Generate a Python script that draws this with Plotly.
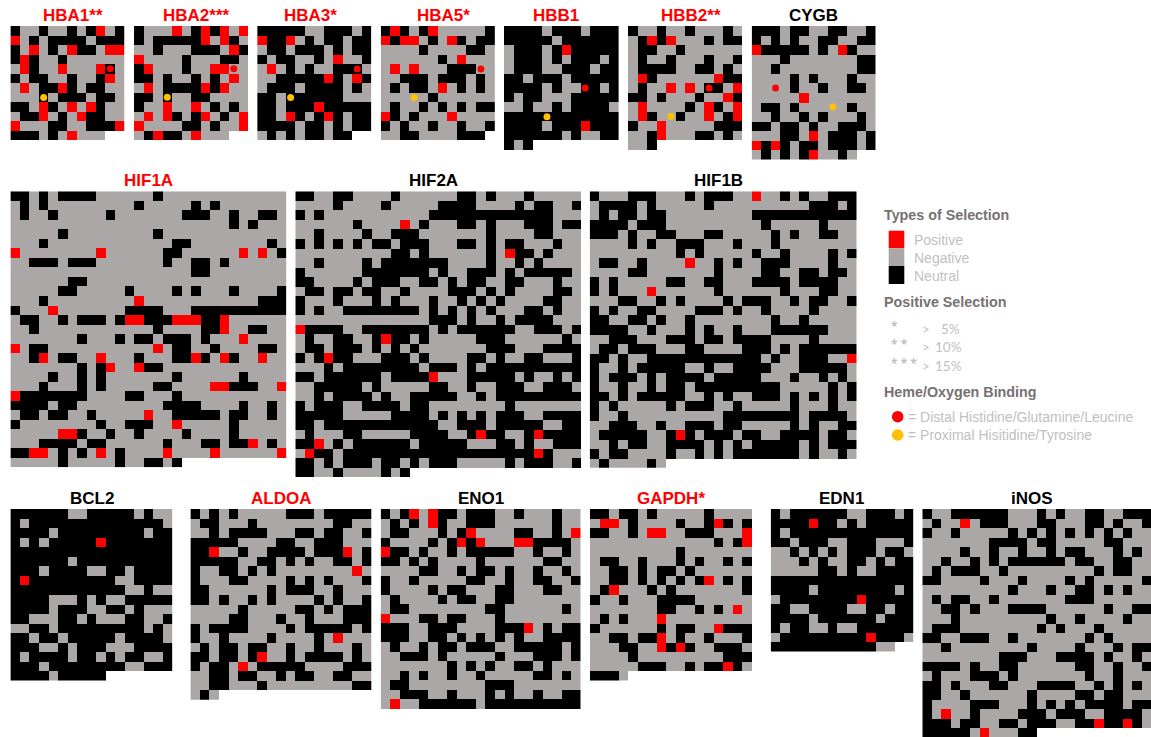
import plotly.graph_objects as go

# '.' negative, '#' neutral, 'r' positive
HBA1 = ["#..#..#.#r.#","r.#.####.###","#.r.#.r##.rr","#r#..#......",".r#..r...r#.","#.##..#..#r.",".r.##r#.##..","...#.###.##.","##.r#.r.r#..",".##r.#.r##..","r...##..###r","###.#.r..."]
HBA2 = ["#...r.#r#r.r","#.#####r.r#.","..#...###.r#","r....#...##.","#r...#..rr..","##.#..#.#.r.",".r.####r#r..","##.#..##....","#..r..r.#.#.",".r.r#.#r.#.r","r....##.#..r",".#r##.r..."]
HBA3 = ["#####..###.#","r##r.#.##.##",".##.###.#.##","#.##..#.r..#",".r.#.#..###.","..#####r#.r#",".###.####.#.","##.######...","##.###r#####","##.r#.#r#.##","####.##.#.##",".#.#.##.##"]
HBA5 = ["#r#.#r.....#","r#rr.#.r#.##","....#....##.","......#.r...",".r.r...###..","..###.###.#.",".#.##.r.#.#.",".....#......",".#..#.#.#.##","r#.#...r....","#.#..#..#..#","..##....###"]
HBB1 = ["####.###.###","#####.######",".###.#r#####",".###.#.###.#",".###..###.##","##.###.#####","####.#..##.#","#.##...#####","..#..#.####.","############","####.###r###","######.#..##","#.#"]
HBB2 = ["#..#..#...#.",".#r#r...#.##",".##..#......",".#..#...#..#",".####..##.#.",".r#......r##",".#..r.r.##.r","##.#...#..r#",".r....#.r#.r",".r#..#..r.#r","#..r.....###","..#r...##.#.","..#"]
CYGB = ["###.##..##..#","#.#.#..##..##","r#####.#.r#..","...#.......##","..#........##","....#.#...#..","....#..#..##.",".....r.......",".##.#.....#..","..#..#.#...#.","##.##.#..###.","...##.r.###.#","r#r#.##.###.#",".#.#.#r..#."]
HIF1A = [
"##.#. ####. ..... #.... ..... ....",
".#.#. ..... ...#. ....# .#... ....",
".#..# ..... #.... ...## #..#. .##.",
"..... ..... ..... ..... ...#. #...",
"..... #.... ..... #.... ..... ....",
"...#. ..... ..... ..##. ..... ..#.",
"r.... ....r ..... .##.. ....r .r.#",
"..### .###. ..... .#..# #.#.. ....",
"..... ..... ..... ....# #.... ....",
"..... .##.. ..... ..... ..... ....",
"..... ##... ..#.. ..#.# ...#. ...#",
"...#. ..... ...r. ..... ..... .###",
"#...r ..... ..### #...# ##### ####",
".##.. #.### .#rr# ##rrr ##r.. ....",
"..#.. ..... ..... #.... ##r.. ##..",
"..... ..#.. .#.## .###. #...r ....",
"r.##. ..... ..... r.##. .#... .##.",
"..#r. ##..r ...#. ..##r #.r#. .r..",
"..... ..#.# r..r# #.... ..... ....",
"....# ..#.# ..... ..#.. ....# ....",
"...#. ..#.# ..... ##... .rr## #..r",
"r#### ###.. ..##. ..#.. ..... ....",
"####. ##... ..... .#### ....# ..#.",
".##.# #..#. ....r ..### ##.## ..#.",
"#.... ....# ..### ..r.. ...#. ....",
"..... rr#.. #..#. ...#. ...#. ....",
"...## ##.## ..... .#... ##.## r.#.",
"##rr. #.#.r .#... .r... .r... ...r",
"..... #.... .#..# #.#"]
HIF2A = [
"##..# #.... #.... ..##. #...# .....",
"....# ....# ..... ####. ...#. ##..#",
"#.#.. ..... ....# ##### ##### ##...",
"..... .#... .r.#. ..##. #...# ##.##",
"..#.. ..#.. ###.. ..... #.... ##...",
"#.#.# .#.## .###. ..##. #.##. ..#..",
"..... ..... ##.#. ..... #.r## .#...",
"..#.. ..#.# ##### #.... #..#. #....",
"#.... ..### ####. #..## #.#.# ####.",
"##... .#.## #..## .#.## ..##. ..#..",
".##.# #.##. .#... .###. #.#.. ..##.",
"#...# ...#. #...# ..#.# .#... .##..",
"#.#.. ##### ###.# .#.#. #...# #.#..",
"..... ..... ....# ##.#. .#.## ##...",
"r#### ..### ####. #.### ###.. ###.#",
".#..# #..#r ##.#. ....# ##... ...#.",
".##.# ##.#. #.#.. ..... ###.. .####",
"#.#r# #...# ##.#. ...## .#..# #...#",
"...#. ##### ###.# ##.#. ##### #####",
"##.## ####. ####r ...## ###.# ..#.#",
"..### ##.#. ....# #..#. .###. .###.",
"..#.# ###.# ..### ##..# .#### #####",
"#.### ..### #.##. ..... ..#.. .....",
"##### ..... ####. #.#.# .###. .####",
"##.## ##### ##### ..### .#### #..##",
".#... ##... ..### #..#r ##..# r####",
"##r.# .#### ##.## ###.. .##.# ..###",
".r##. ##### ##### ##### ##### r#...",
"##.#. ###.# #.#.# ##... ..#.# ##..#",
"##..# ....# .#"]
HIF1B = [
"#...# ##... #.### ..r.. #.#.. ###",
".#### .#... ..#.. ..... ...## #.#",
".#.## .##.. ..... ..### ##### ###",
"####. ###.. ..... ...#. ....# ...",
"###.# ..##. ..##. ....# .#..# #..",
"....# .#..# ##... #...# ..... ...",
"..... ....# .#... ..#.. #.... #.#",
".##.. #.... r..#. #..## #.... #..",
"....# #.... ...#. ...## ..##. ##.",
"#.#.. ...## ..##. ..### #.### #..",
"#.#.. .r... ...#. ..... #...# #..",
"...## ..#.# ....# .###. .#.## ..#",
"#.#.. ##... .###. #..#. ...#. ...",
"##..# #.#.. #.... ....# ..#.. ...",
"####. .#... #.#.. #...# ##### ...",
"..### ...## #.##. ####. ...#. ...",
".##.# ##... ##... .###. #.### ###",
"##.#. .#### ##### ###.# ..### ..r",
"#..#. ##### ..#.. ####. ..### ##.",
"#.### .#.## ##.## ###.. .#..# .#.",
"#..#. .#.## .#### ##### ..... #.#",
"##.#. ##### ..#.# ..### .#.#. #.#",
"#.#.. ...#. ###.. #.... .#... #..",
"#..#. ..... ....# ##### ##.## ##.",
"..### ..#.. ###.# #.... .#.#. .##",
".#### #..#r #.### .##.. ####. ##.",
"..#.# #..## ##.#. #.### ##.#. ###",
"#.##. ...#. .#.#. ##### ##.#. .#.",
".#... .#."]
BCL2 = [
"##### #..## ###.# ..",
"#.### ##### ##### #.",
"####. ##### ####. ##",
"#.#.# ####r ##### ##",
"##### ##### ##### ##",
"##### #.### ##### ##",
"###.# ###.. ##.## ##",
"#r### ##### #..## ##",
"##### ##### ##..# ..",
"####. ..#.# ..### ##",
"####. ###.. ##.#. ..",
"##... ##.#. ..##. .#",
"..##. ##### ####. #.",
"##.## .#### #.### #.",
"###.. #.### ...## ##",
"#.### #.##. #.##. .#",
"###.# ##### ##..# ##",
"####. #####"]
ALDOA = [
"#.#.# ..... ###.# ####",
".##.. .#... ..... ##..",
"..#.# ###.. .##.# #..#",
"##### ....# #..## #...",
"##r.. #..## ##.## #r.#",
"##### ..##. #.#.. ##.#",
"#..## .#.#. ..... ..r.",
"#...# #.... #.#.# ...#",
"##... ...#. ###.. #...",
"##.#. .#.#. ...#. #..#",
"..... #.... .##.# .###",
"....# #...# ..#.. .###",
"#.### #.... #.### ##.#",
"#..#. ...#. ...#. r...",
".#.## .##.. #..#. ..#.",
"##.## .#r.. #.### #.#.",
"#.##. r.### ##... .###",
"..##. ##..# .##.. ##..",
"..##. ..#.. ..... ..##",
".#."]
ENO1 = [
"#.#r. r##.# ##..# ...#. .",
".#.#. r#..# ##... ...#. .",
".##.. .#.#r ....# #..#. r",
"#.... #.#r# r...r r#### .",
"r##.# ..#.# ####. .#..# .",
"##.#. #.... #.... ..##. .",
"....# #..#. ##.#. .#..# .",
"#..#. ....# #..#. .##.. #",
"#.... #.##. ..##. ..##. .",
".#... .#.## ..##. ..... .",
".##.. ..... .##.. ....# .",
"r...# #.##. ..#.. ..... .",
"###.. ###.. ..### r.#.# #",
"###.. ##.#. #.#.# ..### #",
".#..# .##.# ##..# ####. #",
"..### .#... ..#.. .###. #",
"..... ..#.# .#..# #.#.. .",
"..#.# ..#.. #.... .##.# .",
".##.. ..... .###. ..... .",
"..### ..#.. .#.#. .#..# #",
".r..# ##### .#### ##### #"]
GAPDH = [
"##.## .#... ..#.. ..",
".rr.# ....# ..#r# .#",
"##..# .rr.. ###.. .r",
"..... ..... ...#. #r",
"..... ....# ..... ..",
".##.. #...# .#..# .#",
"..##. #.##. #.... ..",
"..##. #.#.# .#r.# .#",
".#r.. .#.#. ..... .#",
"#..#. ..### #.... ..",
"..... ..##. .#.#. r.",
".#.#. ..r.. ..... ..",
"#.... ..#.# #..r# ##",
"..##. ##r.# ..#.. .#",
"...## ..r#r #..## #.",
"....# ..... ....# ##",
"..... ###.. #.##r #.",
"###."]
EDN1 = [
"#.### ###.. ###.#",
"####r ##.#. #####",
"#.### ##### #####",
"##.## #..## #...#",
"..#.# .#.## #.##.",
"...#. #..## .#.##",
"..... ##.#. .####",
"##### ##### #####",
"####. ##### ###.#",
".#### ####r #####",
"##..# ###.. ##.##",
"####. ##### #.###",
"#.##. .#..# #####",
".#### ##### r###.",
"##### ##### #.."]
INOS = [
"#..## ####. ..#.# ..##. .###",
".#..r .###. ..##. ..##. #..#",
"#..#. ....# .#.#. #.#.# .#..",
"..... ..### #.##. ....# #...",
"....# ..#.. #..#. ##... #.#.",
"..#.. #.#.# ##### .##.. ##..",
".#.## #..#. ..... ...#. ##..",
"##... .#... #.... #.#.. ...#",
"..... ....# ...#. .##.# .#..",
".#.## ..#.. ..... ###.. ....",
"..##. #...# ###.. ....# ..##",
"...#. ..... ...#. .#... .#..",
".###. ..... ..#.# ...#. ....",
"##..# ##..# ..... ..#.# ....",
"..#.. ..... .#... .#... #.##",
"..... ...## #...# ###.# ..#.",
"####. #..## ..... .##.. #..#",
".#... ###.# ..... ..#.. #...",
"##.#. ..##. ..### #..#. #.#.",
"##..# ..... .#... .##.# #...",
"#.... ###.. .#.#. #.### #.##",
"#.r.. #.... ###.# ##..# ###.",
"###.# #..## .###. .##r# #r#.",
"##### .r... ##"]

GRAY, BLACK, RED, YELLOW = "#aba7a7", "#000000", "#ff0000", "#ffc000"
LEVEL = {".": 0, "#": 1, "r": 2}

# name, rows, title, title colour, x0, y0, x1, title centre x, title centre y, distal (col,row), proximal (col,row)
PANELS = [
    ("HBA1", HBA1, "HBA1**", RED, 10.4, 26, 124.6, 72.7, 15, (10, 4), (3, 7)),
    ("HBA2", HBA2, "HBA2***", RED, 134, 26, 248, 196.3, 15, (10, 4), (3, 7)),
    ("HBA3", HBA3, "HBA3*", RED, 257.2, 26, 371.6, 310.3, 15, (10, 4), (3, 7)),
    ("HBA5", HBA5, "HBA5*", RED, 380.8, 26, 495.2, 443.3, 15, (10, 4), (3, 7)),
    ("HBB1", HBB1, "HBB1", RED, 504, 26, 618.6, 556, 15, (8, 6), (4, 9)),
    ("HBB2", HBB2, "HBB2**", RED, 628, 26, 742.4, 690.5, 15, (8, 6), (4, 9)),
    ("CYGB", CYGB, "CYGB", BLACK, 751.7, 26, 875.7, 813.8, 15, (2, 6), (8, 8)),
    ("HIF1A", HIF1A, "HIF1A", RED, 10.4, 191.3, 286.4, 148, 180.7, None, None),
    ("HIF2A", HIF2A, "HIF2A", BLACK, 295.3, 191.3, 581, 433.3, 180.7, None, None),
    ("HIF1B", HIF1B, "HIF1B", BLACK, 589.7, 191.3, 856.7, 718.8, 180.7, None, None),
    ("BCL2", BCL2, "BCL2", BLACK, 10.4, 509, 172.4, 91.5, 498.3, None, None),
    ("ALDOA", ALDOA, "ALDOA", RED, 190.4, 509, 371.7, 280.8, 498.3, None, None),
    ("ENO1", ENO1, "ENO1", BLACK, 380.7, 509, 580.7, 480.5, 498.3, None, None),
    ("GAPDH", GAPDH, "GAPDH*", RED, 590, 509, 752, 671.3, 498.3, None, None),
    ("EDN1", EDN1, "EDN1", BLACK, 770.7, 509, 913.3, 841.8, 498.3, None, None),
    ("iNOS", INOS, "iNOS", BLACK, 922.3, 509, 1151, 1032, 498.3, None, None),
]

W, H = 1151, 737
fx = lambda p: p / W
fy = lambda p: 1 - p / H

fig = go.Figure()
layout = dict(width=W, height=H, margin=dict(l=0, r=0, t=0, b=0), paper_bgcolor="white",
              plot_bgcolor="rgba(0,0,0,0)", showlegend=False, hovermode=False)
annotations, shapes = [], []
CS = [[0, GRAY], [0.33, GRAY], [0.33, BLACK], [0.67, BLACK], [0.67, RED], [1, RED]]
bad = []

def text(x, y, s, size, color, bold=False, anchor="left", family="Liberation Sans"):
    annotations.append(dict(x=fx(x), y=fy(y), xref="paper", yref="paper", xanchor=anchor, yanchor="middle",
                            text=f"<b>{s}</b>" if bold else s, showarrow=False,
                            font=dict(size=size, color=color, family=family)))

for i, (name, rows, title, tcol, x0, y0, x1, tx, ty, distal, prox) in enumerate(PANELS):
    rows = [r.replace(" ", "") for r in rows]
    ncols = len(rows[0])
    for k, r in enumerate(rows):
        if k < len(rows) - 1 and len(r) != ncols:
            bad.append(f"{name}[{k}]={len(r)}/{ncols}")
    cell = (x1 - x0) / ncols
    if name == "iNOS":
        cell = 9.53
    z = [[LEVEL[c] for c in r[:ncols]] + [None] * (ncols - len(r)) for r in rows]
    nrows = len(rows)
    y1 = y0 + nrows * cell
    sfx = "" if i == 0 else str(i + 1)
    xa, ya = "x" + sfx, "y" + sfx
    fig.add_trace(go.Heatmap(z=z, zmin=0, zmax=2, colorscale=CS, showscale=False, hoverinfo="skip",
                             xaxis=xa, yaxis=ya))
    for pt, col in ((distal, RED), (prox, YELLOW)):
        if pt:
            fig.add_trace(go.Scatter(x=[pt[0]], y=[pt[1]], mode="markers", hoverinfo="skip",
                                     marker=dict(size=7, color=col, line=dict(width=0)), xaxis=xa, yaxis=ya))
    y1c = min(y1, H)
    rng_bottom = -0.5 + (y1c - y0) / cell
    layout["xaxis" + sfx] = dict(domain=[fx(x0), min(fx(x1), 1)], range=[-0.5, ncols - 0.5], visible=False,
                                 anchor=ya, fixedrange=True)
    layout["yaxis" + sfx] = dict(domain=[fy(y1c), fy(y0)], range=[rng_bottom, -0.5], visible=False,
                                 anchor=xa, fixedrange=True)
    text(tx, ty, title, 17, tcol, bold=True, anchor="center")

if bad:
    raise SystemExit("bad rows: " + ", ".join(bad))

HEAD, ITEM = "#767171", "#bfbfbf"
text(882, 214.5, "Types of Selection", 14.3, HEAD, bold=True)
text(882, 301.7, "Positive Selection", 14.3, HEAD, bold=True)
text(882, 391.7, "Heme/Oxygen Binding", 14.3, HEAD, bold=True)
for label, ly in (("Positive", 240), ("Negative", 258), ("Neutral", 276)):
    text(912, ly, label, 14, ITEM)
for col, a, b in ((RED, 230.7, 248.3), (GRAY, 248.3, 266), (BLACK, 266, 284)):
    shapes.append(dict(type="rect", xref="paper", yref="paper", x0=fx(888.7), x1=fx(904.3), y0=fy(b), y1=fy(a),
                       fillcolor=col, line=dict(width=0)))
for stars, pct, px_, ly in (("*", "5%", 939, 328.5), ("* *", "10%", 933, 346.7), ("* * *", "15%", 933, 365.5)):
    text(889, ly - 2.5, stars, 12, ITEM, bold=True, family="Open Sans")
    text(919.5, ly, "&gt;", 13.5, ITEM, family="Lato")
    text(px_, ly, pct, 13.5, ITEM, family="Lato")
for col, ly, label in ((RED, 416.7, "= Distal Histidine/Glutamine/Leucine"),
                       (YELLOW, 435, "= Proximal Hisitidine/Tyrosine")):
    shapes.append(dict(type="circle", xref="paper", yref="paper", x0=fx(891.9), x1=fx(903.5), y0=fy(ly + 5.8),
                       y1=fy(ly - 5.8), fillcolor=col, line=dict(width=0)))
    text(906, ly, label, 14, ITEM)

layout["annotations"] = annotations
layout["shapes"] = shapes
fig.update_layout(**layout)
fig.write_html("out.html", config={"displayModeBar": False},
               post_script="document.body.style.margin='0';document.body.style.overflow='hidden';")
